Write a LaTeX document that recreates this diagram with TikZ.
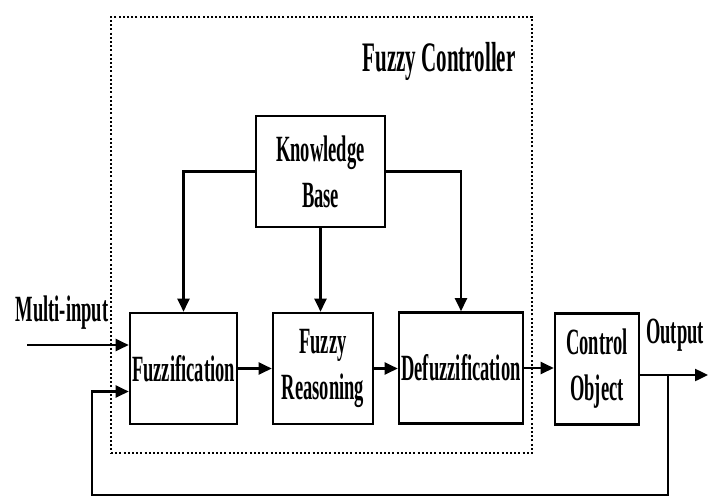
\documentclass[tikz,border=0pt]{standalone}
\usepackage{fontspec}
\newfontfamily\labfont[FakeStretch=0.5]{Liberation Serif Bold}
\usetikzlibrary{arrows.meta}
\begin{document}
\begin{tikzpicture}[x=1pt,y=-1pt,
  txt/.style={font=\labfont\fontsize{37}{46}\selectfont, inner sep=0pt, align=center},
  block/.style={txt, draw, line width=2.6pt, minimum width=#1, minimum height=111pt},
  arr/.style={line width=2.4pt, -{Triangle[length=13pt,width=12pt]}},
  wire/.style={line width=2.4pt},
  frame/.style={draw, line width=2pt, dash pattern=on 2pt off 2.2pt, inner sep=0pt}]
  \useasboundingbox (0,0) rectangle (708,497);

  % controller boundary
  \node[frame, minimum width=421pt, minimum height=436pt] (ctl) at (321.5,235) {};
  \node[txt, font=\labfont\fontsize{42}{50}\selectfont, anchor=base] (title) at (439,72) {Fuzzy Controller};

  % blocks
  \node[block=129pt] (kb) at (320.5,171.5) {Knowledge\\Base};
  \node[block=107pt] (fuzz) at (183.5,368.5) {Fuzzification};
  \node[block=100pt] (reas) at (323,368.5) {Fuzzy\\Reasoning};
  \node[block=124pt] (defz) at (461,368) {Defuzzification};
  \node[block=84pt] (plant) at (597,369) {Control\\Object};

  % labels
  \node[txt, anchor=base] (inlab) at (62,321) {Multi-input};
  \node[txt, anchor=base] (outlab) at (675,343) {Output};

  % free ends
  \coordinate (src) at (27,345);
  \coordinate (outend) at (708,375);
  \coordinate (tap) at (668,375);
  \coordinate (fbl) at (92,495);

  % knowledge base to the three stages
  \draw[arr] (kb.west) -| (fuzz.north);
  \draw[arr] (kb.south) -- (kb.south |- reas.north);
  \draw[arr] (kb.east) -| (defz.north);

  % forward chain
  \draw[arr] (src) -- (src -| fuzz.west);
  \draw[arr] (fuzz.east) -- (reas.west);
  \draw[arr] (reas.east) -- (reas.east -| defz.west);
  \draw[arr] (defz.east) -- (defz.east -| plant.west);
  \draw[arr] (plant.east |- outend) -- (outend);

  % feedback loop
  \draw[arr] (tap) |- (fbl) |- ([yshift=-23pt]fuzz.west);
\end{tikzpicture}
\end{document}
